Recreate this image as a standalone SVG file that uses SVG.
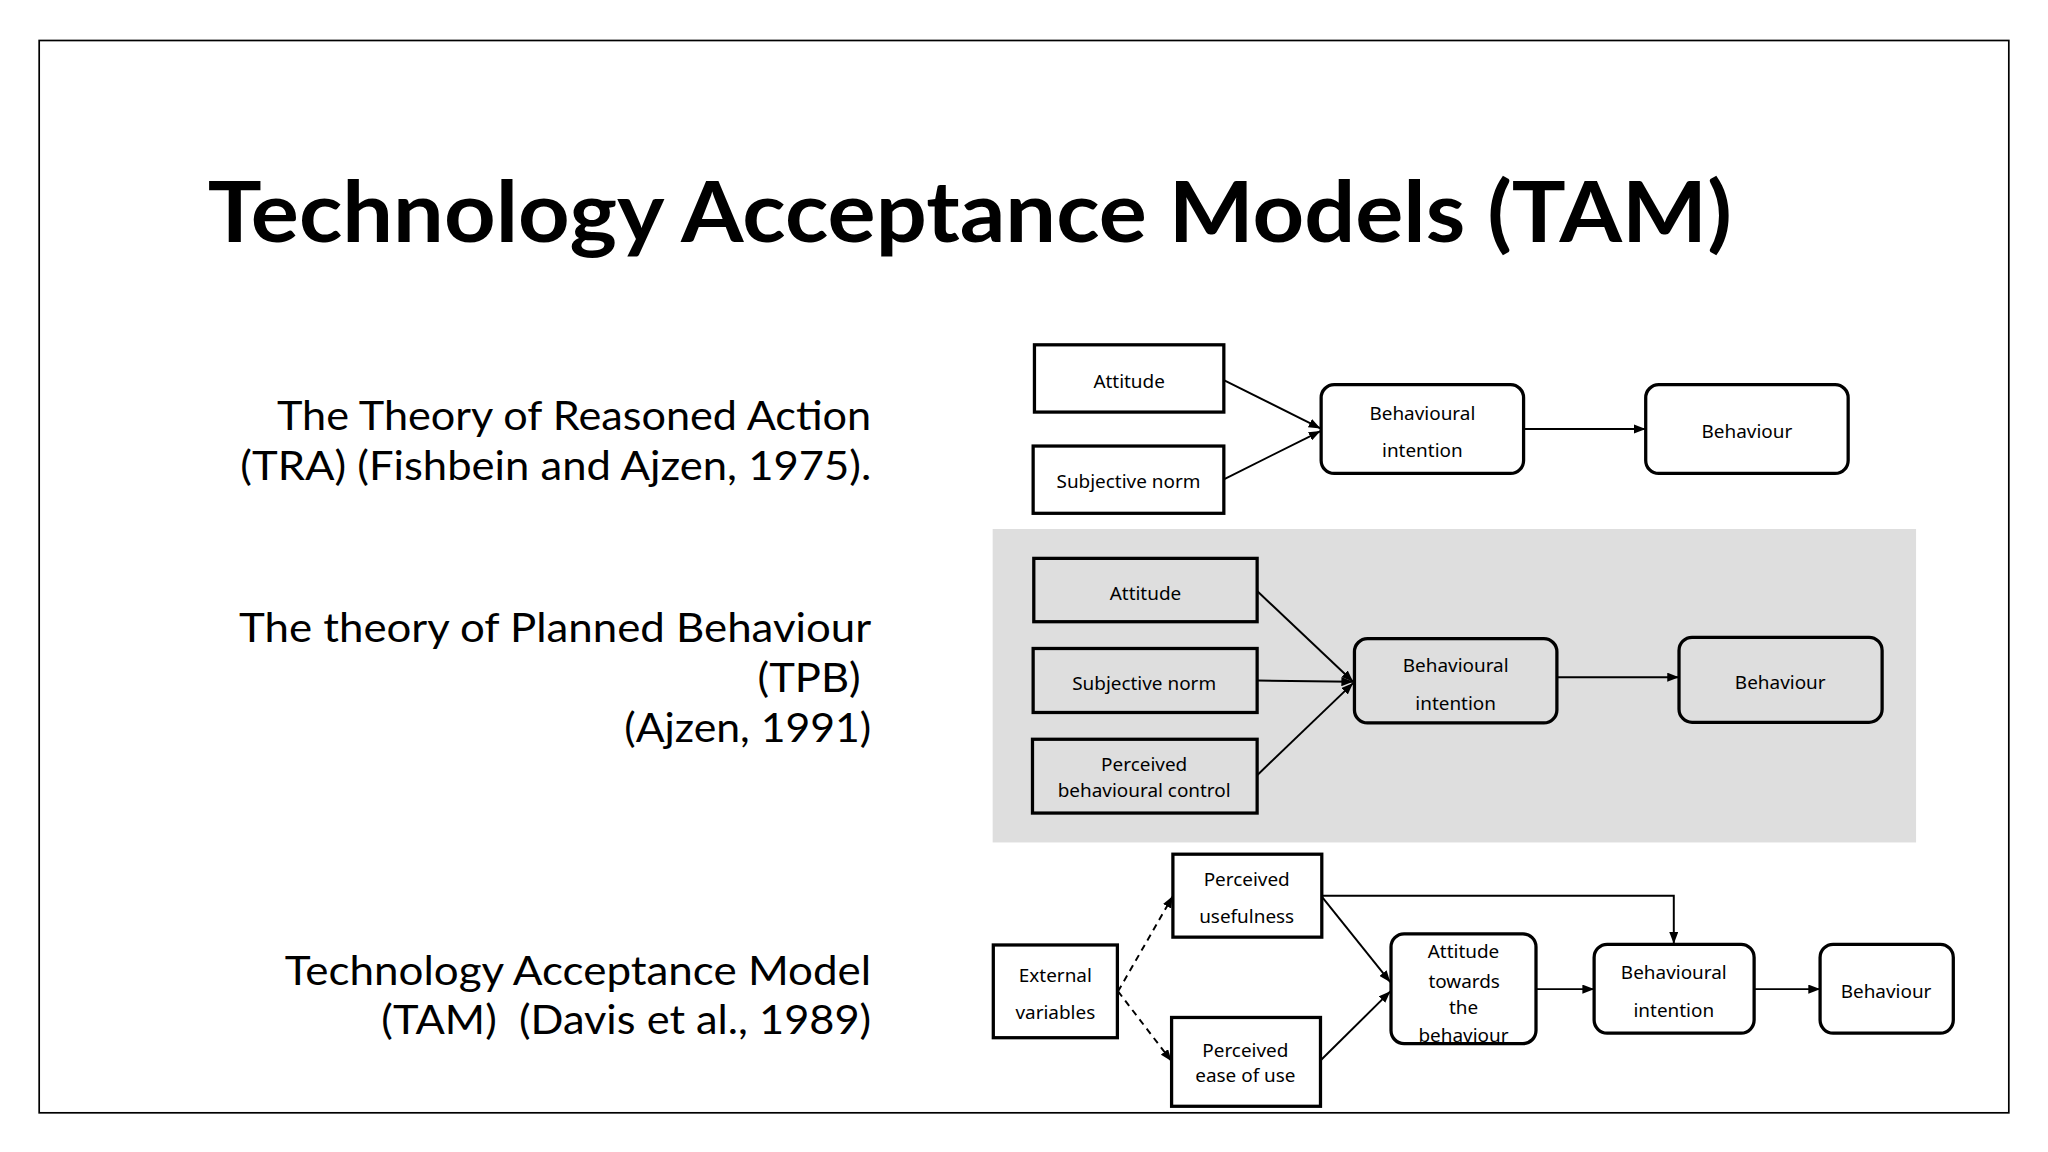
<svg xmlns="http://www.w3.org/2000/svg" width="2048" height="1152" viewBox="0 0 2048 1152">
<defs>
<style>
.box{fill:#ffffff;stroke:#000;stroke-width:2.5}
.boxg{fill:#dedede;stroke:#000;stroke-width:2.5}
.lbl{font-family:"Noto Sans","DejaVu Sans",sans-serif;font-size:14.5px;fill:#000;text-anchor:middle}
.side{font-family:Lato,"Noto Sans",sans-serif;font-size:31px;fill:#000;text-anchor:end;white-space:pre}
.ttl{font-family:Lato,"Noto Sans",sans-serif;font-size:65px;font-weight:700;fill:#000}
.ln{fill:none;stroke:#000;stroke-width:1.5;marker-end:url(#ah)}
.dash{stroke-dasharray:5 4}
</style>
<marker id="ah" markerUnits="userSpaceOnUse" markerWidth="9" markerHeight="7" refX="9" refY="3.5" orient="auto">
<path d="M0,0 L9,3.5 L0,7 z" fill="#000"/>
</marker>
</defs>
<rect x="0" y="0" width="2048" height="1152" fill="#ffffff"/>
<g transform="scale(1.30612)">
<rect x="30" y="31" width="1508" height="821" fill="none" stroke="#000" stroke-width="1.3"/>
<g id="title">
<text class="ttl" x="159" y="185" textLength="1167" lengthAdjust="spacingAndGlyphs">Technology Acceptance Models (TAM)</text>
</g>
<g id="side-labels">
<text class="side" x="667" y="329" textLength="455" lengthAdjust="spacingAndGlyphs">The Theory of Reasoned Action</text>
<text class="side" x="667" y="367.5" textLength="483" lengthAdjust="spacingAndGlyphs">(TRA) (Fishbein and Ajzen, 1975).</text>
<text class="side" x="667" y="491.3" textLength="484" lengthAdjust="spacingAndGlyphs">The theory of Planned Behaviour</text>
<text class="side" x="659" y="529.6" textLength="79" lengthAdjust="spacingAndGlyphs">(TPB)</text>
<text class="side" x="667" y="567.9" textLength="189" lengthAdjust="spacingAndGlyphs">(Ajzen, 1991)</text>
<text class="side" x="667" y="754" textLength="449" lengthAdjust="spacingAndGlyphs">Technology Acceptance Model</text>
<text class="side" x="667" y="792" textLength="375" lengthAdjust="spacingAndGlyphs" xml:space="preserve">(TAM)  (Davis et al., 1989)</text>
</g>
<rect id="tpb-panel" x="760" y="405" width="707" height="240" fill="#dedede"/>
<g id="connectors">
<path class="ln" d="M937,291 L1011,328"/>
<path class="ln" d="M937,367 L1011,330"/>
<path class="ln" d="M1166.5,328.5 L1260,328.5"/>
<path class="ln" d="M962.5,452.5 L1036,522"/>
<path class="ln" d="M962.5,521 L1036,522"/>
<path class="ln" d="M962.5,593.5 L1036,523"/>
<path class="ln" d="M1192,518.5 L1285.5,518.5"/>
<path class="ln dash" d="M856,759 L898,686"/>
<path class="ln dash" d="M856,759 L897,812.5"/>
<path class="ln" d="M1012,686.5 L1064.5,752"/>
<path class="ln" d="M1011,812 L1064.5,759"/>
<path class="ln" d="M1012,685.8 H1281.5 V722.5"/>
<path class="ln" d="M1176,757.3 L1220.5,757.3"/>
<path class="ln" d="M1343,757.3 L1393.5,757.3"/>
</g>
<g id="tra-attitude"><rect class="box" x="792" y="264" width="145" height="51.5"/><text class="lbl" x="864.5" y="297">Attitude</text></g>
<g id="tra-subjective-norm"><rect class="box" x="791" y="341.5" width="146" height="51.5"/><text class="lbl" x="864" y="374">Subjective norm</text></g>
<g id="tra-behavioural-intention"><rect class="box" x="1011.5" y="294.5" width="155" height="68" rx="10"/><text class="lbl" x="1089" y="321.5">Behavioural</text><text class="lbl" x="1089" y="350">intention</text></g>
<g id="tra-behaviour"><rect class="box" x="1260" y="294.5" width="155" height="68" rx="10"/><text class="lbl" x="1337.5" y="335.5">Behaviour</text></g>
<g id="tpb-attitude"><rect class="boxg" x="791.5" y="427.5" width="171" height="48.5"/><text class="lbl" x="877" y="459">Attitude</text></g>
<g id="tpb-subjective-norm"><rect class="boxg" x="791" y="496.5" width="171.5" height="49"/><text class="lbl" x="876" y="528.3">Subjective norm</text></g>
<g id="tpb-perceived-control"><rect class="boxg" x="790.5" y="566" width="172" height="56.5"/><text class="lbl" x="876" y="590">Perceived</text><text class="lbl" x="876" y="610">behavioural control</text></g>
<g id="tpb-behavioural-intention"><rect class="boxg" x="1037" y="489" width="155" height="64.5" rx="10"/><text class="lbl" x="1114.5" y="514.3">Behavioural</text><text class="lbl" x="1114.5" y="543.6">intention</text></g>
<g id="tpb-behaviour"><rect class="boxg" x="1285.5" y="488" width="155.5" height="65" rx="10"/><text class="lbl" x="1363" y="527.8">Behaviour</text></g>
<g id="tam-external-variables"><rect class="box" x="760.5" y="723.5" width="95" height="71"/><text class="lbl" x="808" y="751.6">External</text><text class="lbl" x="808" y="780.4">variables</text></g>
<g id="tam-perceived-usefulness"><rect class="box" x="898" y="654" width="114" height="63.5"/><text class="lbl" x="954.5" y="678.4">Perceived</text><text class="lbl" x="954.5" y="707">usefulness</text></g>
<g id="tam-perceived-ease"><rect class="box" x="897" y="779" width="114" height="68"/><text class="lbl" x="953.5" y="809">Perceived</text><text class="lbl" x="953.5" y="828.7">ease of use</text></g>
<g id="tam-attitude"><rect class="box" x="1065" y="715" width="111" height="84" rx="10"/><text class="lbl" x="1120.5" y="733.2">Attitude</text><text class="lbl" x="1121" y="756.2">towards</text><text class="lbl" x="1120.5" y="776.6">the</text><text class="lbl" x="1120.5" y="797.5">behaviour</text></g>
<g id="tam-behavioural-intention"><rect class="box" x="1220.5" y="723" width="122.5" height="68" rx="10"/><text class="lbl" x="1281.5" y="749.8">Behavioural</text><text class="lbl" x="1281.5" y="779">intention</text></g>
<g id="tam-behaviour"><rect class="box" x="1393.5" y="723" width="102" height="68" rx="10"/><text class="lbl" x="1444" y="764.4">Behaviour</text></g>
</g>
</svg>
